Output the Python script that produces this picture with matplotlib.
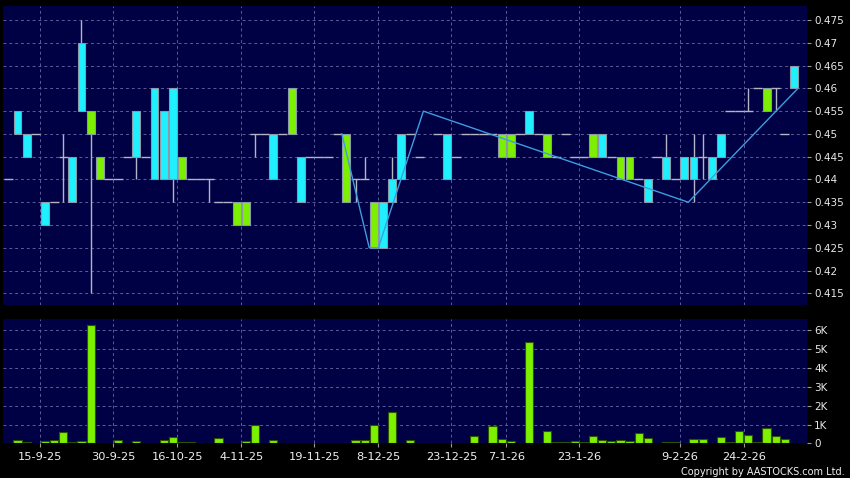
import numpy as np
import matplotlib
matplotlib.use('Agg')
import matplotlib.pyplot as plt

nan = np.nan

# daily open / high / low / close, one entry per trading slot (slot 46 has no mark)
opens = [0.44, 0.45, 0.445, 0.45, 0.43, 0.435, 0.445, 0.435, 0.455, 0.455,
         0.445, 0.44, 0.44, 0.445, 0.445, 0.445, 0.44, 0.44, 0.44, 0.445,
         0.44, 0.44, 0.44, 0.435, 0.435, 0.435, 0.435, 0.45, 0.45, 0.44,
         0.45, 0.46, 0.435, 0.445, 0.445, 0.445, 0.45, 0.45, 0.44, 0.44,
         0.435, 0.425, 0.435, 0.44, 0.45, 0.445, nan, 0.45, 0.44, 0.445,
         0.45, 0.45, 0.45, 0.45, 0.45, 0.45, 0.45, 0.45, 0.45, 0.45,
         0.445, 0.45, 0.445, 0.445, 0.45, 0.445, 0.445, 0.445, 0.445, 0.44,
         0.435, 0.445, 0.44, 0.44, 0.44, 0.44, 0.445, 0.44, 0.445, 0.455,
         0.455, 0.455, 0.46, 0.46, 0.46, 0.45, 0.46]
highs = [0.44, 0.455, 0.45, 0.45, 0.435, 0.435, 0.45, 0.445, 0.475, 0.455,
         0.445, 0.44, 0.44, 0.445, 0.455, 0.445, 0.46, 0.455, 0.46, 0.445,
         0.44, 0.44, 0.44, 0.435, 0.435, 0.435, 0.435, 0.45, 0.45, 0.45,
         0.45, 0.46, 0.445, 0.445, 0.445, 0.445, 0.45, 0.45, 0.44, 0.445,
         0.435, 0.435, 0.445, 0.45, 0.45, 0.445, nan, 0.45, 0.45, 0.445,
         0.45, 0.45, 0.45, 0.45, 0.45, 0.45, 0.45, 0.455, 0.45, 0.45,
         0.445, 0.45, 0.445, 0.445, 0.45, 0.45, 0.445, 0.445, 0.445, 0.44,
         0.44, 0.445, 0.45, 0.44, 0.445, 0.45, 0.45, 0.445, 0.45, 0.455,
         0.455, 0.46, 0.46, 0.46, 0.46, 0.45, 0.465]
lows = [0.44, 0.45, 0.445, 0.45, 0.43, 0.435, 0.435, 0.435, 0.455, 0.415,
        0.44, 0.44, 0.44, 0.445, 0.44, 0.445, 0.44, 0.44, 0.435, 0.44,
        0.44, 0.44, 0.435, 0.435, 0.435, 0.43, 0.43, 0.445, 0.45, 0.44,
        0.45, 0.45, 0.435, 0.445, 0.445, 0.445, 0.45, 0.435, 0.435, 0.44,
        0.425, 0.425, 0.435, 0.44, 0.45, 0.445, nan, 0.45, 0.44, 0.445,
        0.45, 0.45, 0.45, 0.45, 0.445, 0.445, 0.45, 0.45, 0.45, 0.445,
        0.445, 0.45, 0.445, 0.445, 0.445, 0.445, 0.445, 0.44, 0.44, 0.44,
        0.435, 0.445, 0.44, 0.44, 0.44, 0.435, 0.44, 0.44, 0.445, 0.455,
        0.455, 0.455, 0.46, 0.455, 0.455, 0.45, 0.46]
closes = [0.44, 0.455, 0.45, 0.45, 0.435, 0.435, 0.445, 0.445, 0.47, 0.45,
          0.44, 0.44, 0.44, 0.445, 0.455, 0.445, 0.46, 0.455, 0.46, 0.44,
          0.44, 0.44, 0.44, 0.435, 0.435, 0.43, 0.43, 0.45, 0.45, 0.45,
          0.45, 0.45, 0.445, 0.445, 0.445, 0.445, 0.45, 0.435, 0.44, 0.44,
          0.425, 0.435, 0.44, 0.45, 0.45, 0.445, nan, 0.45, 0.45, 0.445,
          0.45, 0.45, 0.45, 0.45, 0.445, 0.445, 0.45, 0.455, 0.45, 0.445,
          0.445, 0.45, 0.445, 0.445, 0.445, 0.45, 0.445, 0.44, 0.44, 0.44,
          0.44, 0.445, 0.445, 0.44, 0.445, 0.445, 0.445, 0.445, 0.45, 0.455,
          0.455, 0.455, 0.46, 0.455, 0.46, 0.45, 0.465]
volumes = [30, 210, 90, 0, 120, 190, 620, 70, 140, 6270,
           30, 50, 170, 0, 120, 50, 0, 210, 320, 60,
           100, 40, 20, 280, 0, 0, 120, 990, 50, 160,
           50, 0, 30, 0, 30, 0, 0, 50, 160, 190,
           1000, 50, 1660, 50, 190, 0, 0, 20, 50, 0,
           0, 390, 50, 920, 230, 110, 0, 5370, 50, 640,
           70, 70, 120, 70, 390, 190, 120, 160, 110, 580,
           300, 0, 70, 70, 20, 250, 250, 20, 340, 70,
           670, 440, 90, 820, 420, 230, 20]

# zigzag overlay vertices (slot position, price)
zigzag_x = [36.5, 39.5, 40.5, 45.43, 74.43, 86.43]
zigzag_y = [0.45, 0.425, 0.425, 0.455, 0.435, 0.46]

date_slots = [3.5, 11.5, 18.5, 25.5, 33.5, 40.5, 48.5, 54.5, 62.5, 73.5, 80.5]
date_labels = ['15-9-25', '30-9-25', '16-10-25', '4-11-25', '19-11-25', '8-12-25',
               '23-12-25', '7-1-26', '23-1-26', '9-2-26', '24-2-26']
price_ticks = [0.415, 0.42, 0.425, 0.43, 0.435, 0.44, 0.445, 0.45, 0.455, 0.46,
               0.465, 0.47, 0.475]
vol_ticks = [0, 1000, 2000, 3000, 4000, 5000, 6000]
vol_labels = ['0', '1K', '2K', '3K', '4K', '5K', '6K']

panel_bg = '#000045'
grid_col = '#5c5c98'
cyan = '#1ef0ff'
lime = '#7cf000'
grey = '#b4b4c4'

o = np.array(opens)
h = np.array(highs)
l = np.array(lows)
c = np.array(closes)
v = np.array(volumes)
idx = np.arange(len(o))

fig = plt.figure(figsize=(8.5, 4.78), dpi=100, facecolor='black')
ax = fig.add_axes([0.0041, 0.3619, 0.9457, 0.6255])
axv = fig.add_axes([0.0041, 0.0722, 0.9457, 0.2598])

for a in (ax, axv):
    a.set_facecolor(panel_bg)
    for s in a.spines.values():
        s.set_visible(False)
    a.set_xlim(-0.54, 87.46)
    a.set_xticks(date_slots)
    a.yaxis.tick_right()
    a.grid(True, linestyle=(0, (3, 3)), color=grid_col, linewidth=0.7)
    a.set_axisbelow(True)
    a.tick_params(axis='y', length=3, color='#9a9a9a', labelcolor='#e8e8e8',
                  labelsize=7.5, pad=2)

# price panel
ok = ~np.isnan(o)
ax.vlines(idx[ok], l[ok], h[ok], color=grey, linewidth=1, zorder=2)
flat = ok & (o == c)
ax.hlines(c[flat], idx[flat] - 0.5, idx[flat] + 0.5, color=grey, linewidth=1, zorder=2)
body = ok & (o != c)
up = body & (c > o)
down = body & (c < o)
ax.bar(idx[up], (c - o)[up], bottom=o[up], width=0.86, color=cyan,
       edgecolor='#8a9aa8', linewidth=0.8, zorder=3)
ax.bar(idx[down], (o - c)[down], bottom=c[down], width=0.86, color=lime,
       edgecolor='#8a9aa8', linewidth=0.8, zorder=3)
ax.plot(zigzag_x, zigzag_y, color='#3c9ee0', linewidth=1, zorder=4)

ax.set_ylim(0.41243, 0.47808)
ax.set_yticks(price_ticks)
ax.set_yticklabels([f'{t:g}' for t in price_ticks])
ax.tick_params(axis='x', length=0, labelbottom=False)

# volume panel
has_vol = v > 0
axv.bar(idx[has_vol], v[has_vol], width=0.9, color=lime, edgecolor='#2e5200',
        linewidth=0.8, zorder=3)
axv.set_ylim(0, 6570)
axv.set_yticks(vol_ticks)
axv.set_yticklabels(vol_labels)
axv.set_xticklabels(date_labels)
axv.tick_params(axis='x', length=3, color='#9a9a9a', labelcolor='#f0f0f0',
                labelsize=8.2, pad=3)

fig.text(0.994, 0.013, 'Copyright by AASTOCKS.com Ltd.', ha='right', va='center',
         color='#f0f0f0', fontsize=7)

fig.savefig('out.png', dpi=100, facecolor='black')
